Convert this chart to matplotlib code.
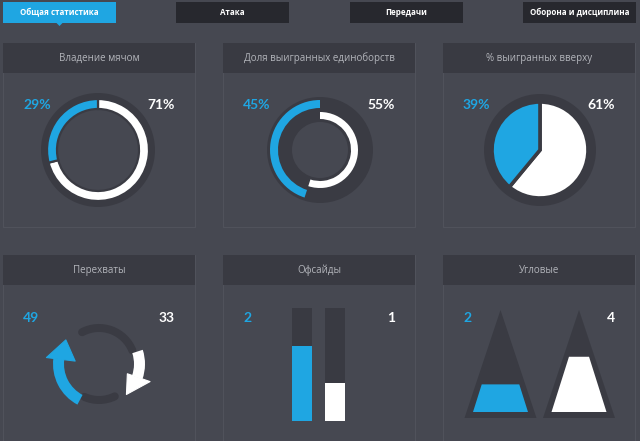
import numpy as np
import matplotlib
matplotlib.use('Agg')
import matplotlib.pyplot as plt
from matplotlib.patches import Rectangle, Wedge, Polygon, Circle, Arc

# ---------------- data ----------------
tabs = ['Общая статистика', 'Атака', 'Передачи', 'Оборона и дисциплина']
titles = ['Владение мячом', 'Доля выигранных единоборств', '% выигранных вверху',
          'Перехваты', 'Офсайды', 'Угловые']
possession = [29, 71]
duels = [45, 55]
aerial = [39, 61]
interceptions = [49, 33]
offsides = [2, 1]
offsides_max = 3
corners = [2, 4]
corners_scale = 6.3

# ---------------- style ----------------
BG = '#464851'
HEADER = '#393a42'
BORDER = '#50525b'
TRACK = '#3a3b43'
BLUE = '#1fa6e2'
WHITE = '#ffffff'
TITLE = '#b3b5bb'
TAB = '#27282e'
NUM_FONT = ['Lato', 'Open Sans', 'DejaVu Sans']
TXT_FONT = ['Open Sans', 'DejaVu Sans']

W, H = 640, 441
fig = plt.figure(figsize=(6.4, 4.41), dpi=100, facecolor=BG)
base = fig.add_axes([0, 0, 1, 1])
base.set_xlim(0, W)
base.set_ylim(H, 0)
base.axis('off')


def px_axes(x0, y0, w, h):
    ax = fig.add_axes([x0 / W, 1 - (y0 + h) / H, w / W, h / H])
    ax.axis('off')
    return ax


# ---------------- tabs ----------------
tab_x = [3, 176, 350, 523]
for i, (tx, label) in enumerate(zip(tab_x, tabs)):
    col = BLUE if i == 0 else TAB
    base.add_patch(Rectangle((tx, 2), 113, 21, fc=col, ec='none'))
    base.text(tx + 56.5, 12.8, label, color='white', fontsize=5.8, fontweight='bold',
              ha='center', va='center', family=TXT_FONT)
base.add_patch(Polygon([(56, 22.5), (63, 22.5), (59.5, 26)], fc=BLUE, ec='none'))

# ---------------- panels ----------------
panel_x = [3, 223, 443]
rows = [(43, 184), (255, 200)]
k = 0
for (py, ph) in rows:
    for px in panel_x:
        base.add_patch(Rectangle((px, py), 192, ph, fc=BG, ec=BORDER, lw=0.8))
        base.add_patch(Rectangle((px, py), 192, 30, fc=HEADER, ec='none'))
        base.text(px + 96, py + 15.5, titles[k], color=TITLE, fontsize=7.0,
                  ha='center', va='center', family=TXT_FONT)
        k += 1


def side_labels(px, y, left, right):
    base.text(px + 20, y, left, color=BLUE, fontsize=10, fontweight='bold',
              ha='left', va='center', family=NUM_FONT)
    base.text(px + 172, y, right, color=WHITE, fontsize=10, fontweight='bold',
              ha='right', va='center', family=NUM_FONT)


def round_axes(cx, cy, size=120):
    ax = px_axes(cx - size / 2, cy - size / 2, size, size)
    return ax


def fix(ax, size=120):
    ax.set_xlim(-size / 2, size / 2)
    ax.set_ylim(-size / 2, size / 2)
    ax.set_aspect('equal')
    ax.axis('off')


# 1. Possession donut
ax1 = round_axes(98, 150)
ax1.add_patch(Wedge((0, 0), 57, 0, 360, width=16, fc=TRACK, ec='none'))
ax1.pie([possession[1], possession[0]], colors=[WHITE, BLUE], startangle=90,
        counterclock=False, radius=51,
        wedgeprops=dict(width=10, edgecolor=TRACK, linewidth=1.6))
fix(ax1)
side_labels(panel_x[0], 105, f'{possession[0]}%', f'{possession[1]}%')

# 2. Duels: two concentric rings
ax2 = round_axes(320, 150)
ax2.add_patch(Wedge((0, 0), 53, 0, 360, width=25, fc=TRACK, ec='none'))
ax2.pie([duels[0], 100 - duels[0]], colors=[BLUE, 'none'], startangle=90,
        counterclock=True, radius=50, wedgeprops=dict(width=8, edgecolor='none'))
ax2.pie([duels[1], 100 - duels[1]], colors=[WHITE, 'none'], startangle=90,
        counterclock=False, radius=38, wedgeprops=dict(width=7, edgecolor='none'))
fix(ax2)
side_labels(panel_x[1], 105, f'{duels[0]}%', f'{duels[1]}%')

# 3. Aerial duels pie
ax3 = round_axes(540, 150)
ax3.add_patch(Circle((0, 0), 56, fc=TRACK, ec='none'))
ax3.pie([aerial[1], aerial[0]], colors=[WHITE, BLUE], startangle=90,
        counterclock=False, radius=48,
        wedgeprops=dict(edgecolor=TRACK, linewidth=2.6))
fix(ax3)
side_labels(panel_x[2], 105, f'{aerial[0]}%', f'{aerial[1]}%')

# 4. Interceptions: circular arrows (arc span proportional to value)
ax4 = round_axes(99, 364)
deg_per_unit = 2.0
head_deg = 29
lw_dark = 8 * 72 / 100
ax4.add_patch(Arc((0, 0), 72, 72, theta1=22, theta2=118, lw=lw_dark,
                  color=TRACK, capstyle='round'))
ax4.add_patch(Arc((0, 0), 72, 72, theta1=246, theta2=296, lw=lw_dark,
                  color=TRACK, capstyle='round'))


def arrow(start, value, color, r_out=46, width=11, r_mid=41, head_in=24, head_out=53):
    end = start - value * deg_per_unit          # clockwise
    body_end = end + head_deg
    ax4.add_patch(Wedge((0, 0), r_out, body_end - 0.5, start, width=width,
                        fc=color, ec='none'))
    a = np.radians(body_end)
    t = np.radians(end)
    pts = [(head_in * np.cos(a), head_in * np.sin(a)),
           (head_out * np.cos(a), head_out * np.sin(a)),
           (r_mid * np.cos(t), r_mid * np.sin(t))]
    ax4.add_patch(Polygon(pts, closed=True, fc=color, ec=color, lw=0.8,
                          joinstyle='round'))


arrow(242, interceptions[0], BLUE)
arrow(18, interceptions[1], WHITE, head_in=30, head_out=54)
fix(ax4)
side_labels(panel_x[0], 318, str(interceptions[0]), str(interceptions[1]))

# 5. Offsides bars
ax5 = px_axes(285.5, 308, 66, 113)
ax5.bar([0, 1], [offsides_max, offsides_max], width=0.606, color=HEADER)
ax5.bar([0, 1], offsides, width=0.606, color=[BLUE, WHITE])
ax5.set_xlim(-0.5, 1.5)
ax5.set_ylim(0, offsides_max)
ax5.axis('off')
side_labels(panel_x[1], 318, str(offsides[0]), str(offsides[1]))

# 6. Corners triangles
ax6 = px_axes(455, 300, 170, 125)
ax6.set_xlim(455, 625)
ax6.set_ylim(425, 300)
ax6.axis('off')
tri_cx = [500.5, 579]
tri_cols = [BLUE, WHITE]
inner_h, inner_hw, inner_base = 87, 27.5, 412
for cx, v, col in zip(tri_cx, corners, tri_cols):
    ax6.add_patch(Polygon([(cx - 36, 418), (cx, 310), (cx + 36, 418)],
                          fc=TRACK, ec='none'))
    h = v / corners_scale * inner_h
    top_hw = inner_hw * (1 - h / inner_h)
    ax6.fill([cx - inner_hw, cx + inner_hw, cx + top_hw, cx - top_hw],
             [inner_base, inner_base, inner_base - h, inner_base - h],
             color=col, lw=0)
side_labels(panel_x[2], 318, str(corners[0]), str(corners[1]))

fig.savefig('out.png', dpi=100, facecolor=BG)
